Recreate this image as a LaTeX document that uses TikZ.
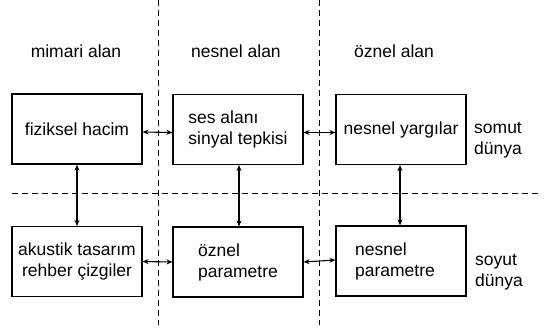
\documentclass[tikz,border=0pt]{standalone}
\usepackage{fontspec}
\setmainfont{Liberation Sans}
\usetikzlibrary{arrows.meta}
\begin{document}
\begin{tikzpicture}[x=1pt,y=-1pt,
  every node/.style={font=\fontsize{17.5}{21}\selectfont},
  blk/.style={draw,line width=1.1pt,minimum width=130pt,minimum height=70pt,inner sep=0pt,align=left},
  lbl/.style={inner sep=0pt,align=left},
  sep/.style={line width=0.9pt,dash pattern=on 6pt off 4pt},
  link/.style={line width=1.1pt,{Stealth[length=6pt,width=5pt]}-{Stealth[length=6pt,width=5pt]}}]
\useasboundingbox (0,0) rectangle (549,327);
% separators
\draw[sep] (158,0) -- (158,325);
\draw[sep] (319,0) -- (319,325);
\draw[sep] (12,193) -- (540,193);
% headings
\node[lbl] (h1) at (76,51) {mimari alan};
\node[lbl] (h2) at (236,51) {nesnel alan};
\node[lbl] (h3) at (394,51) {öznel alan};
% boxes
\node[blk,fill=white] (a1) at (77,129) {fiziksel hacim};
\node[blk,fill=white] (a2) at (238,129.5) {ses alanı\\sinyal tepkisi};
\node[blk,fill=white] (a3) at (401,129.5) {nesnel yargılar};
\node[blk,fill=white] (b1) at (77,261.5) {akustik tasarım\\\hspace*{4pt}rehber çizgiler};
\node[blk,fill=white] (b2) at (238,262) {öznel\\parametre};
\node[blk,fill=white] (b3) at (401,261) {nesnel\\parametre\hspace*{12pt}};
% side labels
\node[lbl,anchor=west] (s1) at (474,140) {somut\\dünya};
\node[lbl,anchor=west] (s2) at (475,272) {soyut\\dünya};
% connectors
\draw[link] ([yshift=-3pt]a1.east) -- ([yshift=-3pt]a2.west);
\draw[link] ([yshift=-3pt]a2.east) -- ([yshift=-3pt]a3.west);
\draw[link] (b1.east) -- (b2.west);
\draw[link] (b2.east) -- ([yshift=1pt]b3.west);
\draw[link] (a1.south) -- (b1.north);
\draw[link] ([xshift=1pt]a2.south) -- ([xshift=1pt]b2.north);
\draw[link] ([xshift=-1pt]a3.south) -- ([xshift=-1pt]b3.north);
\end{tikzpicture}
\end{document}
